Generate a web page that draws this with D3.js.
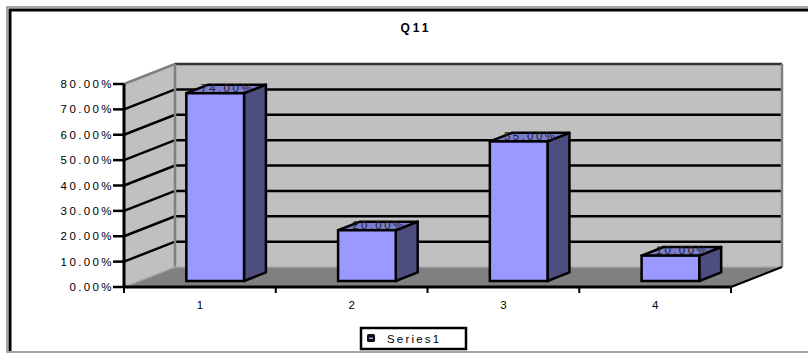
<!DOCTYPE html>
<html>
<head>
<meta charset="utf-8">
<script src="https://cdn.jsdelivr.net/npm/d3@7"></script>
<style>
  body { margin: 0; background: #fff; }
  text { font-family: "Liberation Sans", Arial, sans-serif; }
</style>
</head>
<body>
<div id="chart"></div>
<script>
// data
const categories = ["1", "2", "3", "4"]
const values = [0.74, 0.20, 0.55, 0.10]
const yTicks = [0, 0.1, 0.2, 0.3, 0.4, 0.5, 0.6, 0.7, 0.8]
const seriesName = "Series1"
const title = "Q11"

const W = 808, H = 354
// front plane of the 3d box
const x0 = 124, x1 = 731, yBase = 287, yTop = 84
// depth offset of back wall
const DX = 51, DY = -20
// bar depth (fractions of the full depth)
const t0 = 0.3, t1 = 0.73

const svg = d3.select("#chart").append("svg")
    .attr("width", W)
    .attr("height", H)

const x = d3.scaleBand().domain(categories).range([x0, x1]).paddingInner(0).paddingOuter(0)
const y = d3.scaleLinear().domain([0, 0.8]).range([yBase, yTop])
const fmt = d3.format(".2%")

// frame
svg.append("path").attr("d", `M${W},7H7V${H - 2}H${W}`)
    .attr("fill", "none").attr("stroke", "#888").attr("stroke-width", 1.5)
svg.append("path").attr("d", `M10,${H - 3}V10H${W}`)
    .attr("fill", "none").attr("stroke", "#000").attr("stroke-width", 3)

// walls
const pt = (px, py) => px + "," + py
svg.append("polygon")
    .attr("points", [pt(x0, y(0)), pt(x0, y(0.8)), pt(x0 + DX, y(0.8) + DY), pt(x0 + DX, y(0) + DY)].join(" "))
    .attr("fill", "#c0c0c0")
svg.append("polygon")
    .attr("points", [pt(x0 + DX, y(0.8) + DY), pt(x1 + DX, y(0.8) + DY), pt(x1 + DX, y(0) + DY), pt(x0 + DX, y(0) + DY)].join(" "))
    .attr("fill", "#c0c0c0")
svg.append("polygon")
    .attr("points", [pt(x0, y(0)), pt(x1, y(0)), pt(x1 + DX, y(0) + DY), pt(x0 + DX, y(0) + DY)].join(" "))
    .attr("fill", "#808080")

// gridlines
const grid = svg.append("g")
grid.selectAll(".g").data(yTicks.filter(d => d > 0 && d < 0.8)).enter().append("path")
    .attr("d", d => `M${x0},${y(d)}L${x0 + DX},${y(d) + DY}H${x1 + DX}`)
    .attr("fill", "none").attr("stroke", "#000").attr("stroke-width", 2.5)

// wall edges
svg.append("path").attr("d", `M${x0},${y(0.8)}L${x0 + DX},${y(0.8) + DY}`)
    .attr("stroke", "#808080").attr("stroke-width", 2.5).attr("fill", "none")
svg.append("path").attr("d", `M${x0 + DX},${y(0.8) + DY}H${x1 + DX}`)
    .attr("stroke", "#333").attr("stroke-width", 2.5).attr("fill", "none")
svg.append("path").attr("d", `M${x0 + DX},${y(0.8) + DY}V${y(0) + DY}`)
    .attr("stroke", "#808080").attr("stroke-width", 2.5).attr("fill", "none")
svg.append("path").attr("d", `M${x1 + DX},${y(0.8) + DY}V${y(0) + DY}`)
    .attr("stroke", "#808080").attr("stroke-width", 2.5).attr("fill", "none")
svg.append("path").attr("d", `M${x0},${y(0)}L${x0 + DX},${y(0) + DY}H${x1 + DX}`)
    .attr("stroke", "#a8a8a8").attr("stroke-width", 1.5).attr("fill", "none")
svg.append("path").attr("d", `M${x1},${y(0)}L${x1 + DX},${y(0) + DY}`)
    .attr("stroke", "#000").attr("stroke-width", 2).attr("fill", "none")

// bars
const bw = x.bandwidth() * 0.38
const bars = svg.selectAll(".bar").data(values).enter().append("g").attr("class", "bar")
bars.each(function (d, i) {
    const g = d3.select(this)
    const cx = x(categories[i]) + x.bandwidth() / 2
    const fx = cx - bw / 2 + DX * t0, fy = DY * t0
    const ddx = DX * (t1 - t0), ddy = DY * (t1 - t0)
    const yb = y(0) + fy, yt = y(d) + fy
    // side
    g.append("polygon")
        .attr("points", [pt(fx + bw, yb), pt(fx + bw, yt), pt(fx + bw + ddx, yt + ddy), pt(fx + bw + ddx, yb + ddy)].join(" "))
        .attr("fill", "#4d4d80").attr("stroke", "#000").attr("stroke-width", 2.5).attr("stroke-linejoin", "round")
    // top
    g.append("polygon")
        .attr("points", [pt(fx, yt), pt(fx + bw, yt), pt(fx + bw + ddx, yt + ddy), pt(fx + ddx, yt + ddy)].join(" "))
        .attr("fill", "#7c7ccc").attr("stroke", "#000").attr("stroke-width", 2.5).attr("stroke-linejoin", "round")
    // front
    g.append("rect")
        .attr("x", fx).attr("y", yt).attr("width", bw).attr("height", yb - yt)
        .attr("fill", "#9999ff").attr("stroke", "#000").attr("stroke-width", 2.5)
    // value label
    g.append("text")
        .attr("x", fx + bw / 2 + ddx / 2 + 1)
        .attr("y", yt - 1.5)
        .attr("text-anchor", "middle")
        .attr("font-size", "11.5px")
        .attr("letter-spacing", "2.4px")
        .attr("fill", "#222")
        .text(fmt(d))
})

// value axis
svg.append("path").attr("d", `M${x0},${y(0.8)}V${y(0)}`)
    .attr("stroke", "#000").attr("stroke-width", 3)
const yAxis = svg.append("g")
yAxis.selectAll("line").data(yTicks).enter().append("line")
    .attr("x1", x0 - 11).attr("x2", x0).attr("y1", d => y(d)).attr("y2", d => y(d))
    .attr("stroke", "#000").attr("stroke-width", 2.5)
yAxis.selectAll("text").data(yTicks).enter().append("text")
    .attr("x", x0 - 10).attr("y", d => y(d) + 4)
    .attr("text-anchor", "end")
    .attr("font-size", "11.5px")
    .attr("letter-spacing", "2.4px")
    .text(d => fmt(d))

// category axis
svg.append("path").attr("d", `M${x0},${y(0)}H${x1}`)
    .attr("stroke", "#000").attr("stroke-width", 3)
const xAxis = svg.append("g")
xAxis.selectAll("line").data(categories.concat(["end"])).enter().append("line")
    .attr("x1", (d, i) => x0 + i * x.bandwidth()).attr("x2", (d, i) => x0 + i * x.bandwidth())
    .attr("y1", y(0)).attr("y2", y(0) + 6)
    .attr("stroke", "#000").attr("stroke-width", 2)
xAxis.selectAll("text").data(categories).enter().append("text")
    .attr("x", d => x(d) + x.bandwidth() / 2)
    .attr("y", y(0) + 22)
    .attr("text-anchor", "middle")
    .attr("font-size", "11.5px")
    .text(d => d)

// title
svg.append("text")
    .attr("x", 416).attr("y", 32)
    .attr("text-anchor", "middle")
    .attr("font-size", "12px").attr("font-weight", "bold")
    .attr("letter-spacing", "3px")
    .text(title)

// legend
const lg = svg.append("g").attr("transform", "translate(361,328)")
lg.append("rect").attr("width", 105).attr("height", 21)
    .attr("fill", "#fff").attr("stroke", "#000").attr("stroke-width", 2.5)
lg.append("rect").attr("x", 6).attr("y", 6).attr("width", 8).attr("height", 8).attr("rx", 1.5)
    .attr("fill", "#111")
lg.append("rect").attr("x", 8).attr("y", 9.5).attr("width", 4).attr("height", 1.5)
    .attr("fill", "#9999ff")
lg.append("text").attr("x", 26).attr("y", 15)
    .attr("font-size", "11.5px").attr("letter-spacing", "2.2px")
    .text(seriesName)
</script>
</body>
</html>
